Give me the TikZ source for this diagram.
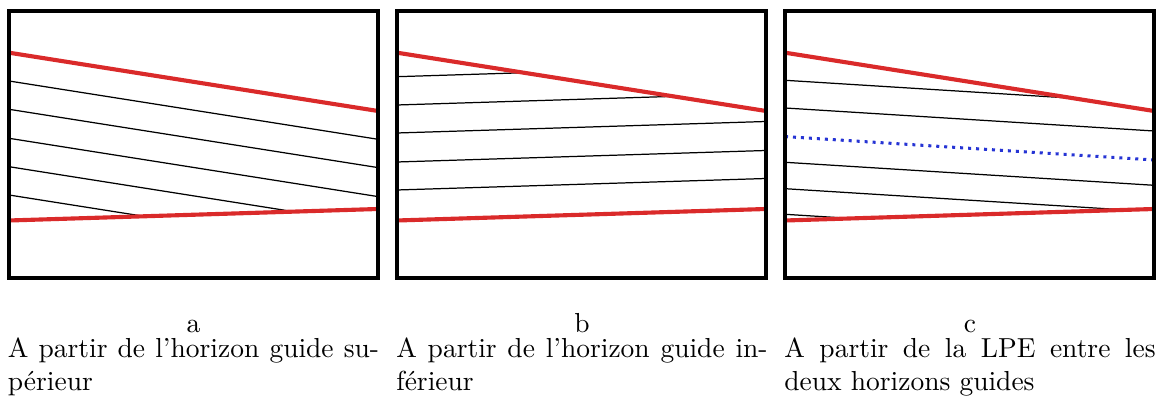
\documentclass[tikz,border=0pt]{standalone}
\usepackage{tikz}
\usetikzlibrary{positioning}
\definecolor{horizon}{RGB}{218,42,42}
\definecolor{lpe}{RGB}{38,52,212}
\tikzset{
  panelframe/.style={draw=black, line width=1.45pt},
  guide/.style={horizon, line width=1.5pt},
  hatch/.style={black, line width=0.45pt},
  lpeline/.style={lpe, line width=1.1pt, dash pattern=on 1.1pt off 1.8pt},
  sublab/.style={inner sep=0pt, anchor=base},
  captext/.style={inner sep=0pt, text width=135pt, align=justify},
}

\begin{document}
\begin{tikzpicture}[x=0.3636pt, y=-0.3636pt]
  \useasboundingbox (0,0) rectangle (1159,403);

  % ===== a: lines parallel to the upper guide =====
  \begin{scope}[shift={(9,11)}]
    \begin{scope}
      \clip (0,0) -- (369,0) -- (369,198) -- (0,209.5) -- cycle;
      \foreach \yl in {70,98.3,127.3,155.7,184}
        \draw[hatch] (0,\yl) -- (369,\yl+58.3);
    \end{scope}
    \draw[guide] (0,41.7) -- (369,100);
    \draw[guide] (0,209.5) -- (369,198);
    \draw[panelframe] (0,0) rectangle (369,267.5);
  \end{scope}

  % ===== b: lines parallel to the lower guide =====
  \begin{scope}[shift={(397,11)}]
    \begin{scope}
      \clip (0,41.7) -- (369,100) -- (369,267.5) -- (0,267.5) -- cycle;
      \foreach \yl in {65.7,94,122,151,179}
        \draw[hatch] (0,\yl) -- (369,\yl-11.5);
    \end{scope}
    \draw[guide] (0,41.7) -- (369,100);
    \draw[guide] (0,209.5) -- (369,198);
    \draw[panelframe] (0,0) rectangle (369,267.5);
  \end{scope}

  % ===== c: lines parallel to the LPE between both guides =====
  \begin{scope}[shift={(785,11)}]
    \begin{scope}
      \clip (0,41.7) -- (369,100) -- (369,198) -- (0,209.5) -- cycle;
      \foreach \yl in {69.3,97,151.3,177.7,203.3}
        \draw[hatch] (0,\yl) -- (369,\yl+23);
    \end{scope}
    \draw[lpeline] (0,125.6) -- (369,149);
    \draw[guide] (0,41.7) -- (369,100);
    \draw[guide] (0,209.5) -- (369,198);
    \draw[panelframe] (0,0) rectangle (369,267.5);
  \end{scope}

  % --- sub-figure letters and captions ---
  \node[sublab] (laba) at (193.5,333) {a};
  \node[sublab] (labb) at (582,333) {b};
  \node[sublab] (labc) at (970,333) {c};
  \node[captext, below=1.1pt of laba] (capa)
    {A partir de l'horizon guide su\-périeur};
  \node[captext, below=1.1pt of labb] (capb)
    {A partir de l'horizon guide in\-férieur};
  \node[captext, below=1.1pt of labc] (capc)
    {A partir de la LPE entre les deux horizons guides};
\end{tikzpicture}
\end{document}
